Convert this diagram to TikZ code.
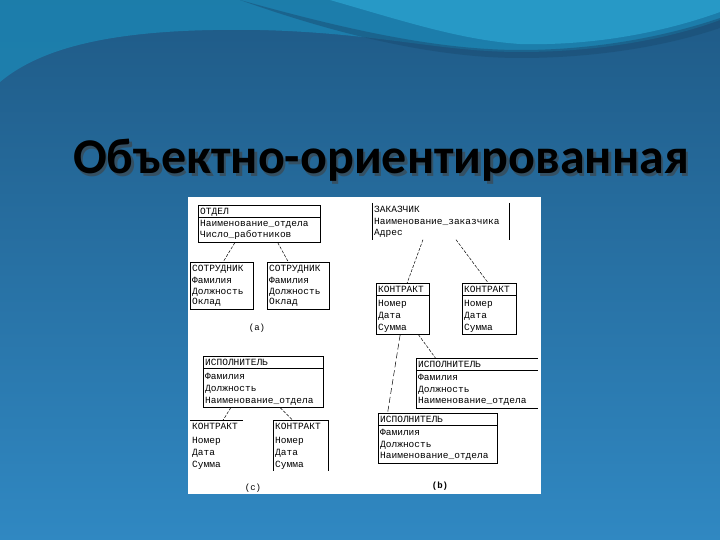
\documentclass[tikz,border=0pt]{standalone}
\usepackage{fontspec}
\newfontfamily\titlefont{Carlito}
\newfontfamily\mono{Liberation Mono}
\usetikzlibrary{calc}
\definecolor{bgtop}{HTML}{1F5A86}
\definecolor{bgbot}{HTML}{3088C2}
\definecolor{wave}{HTML}{1C86B4}
\definecolor{streak}{HTML}{2CA6D2}
\tikzset{
  box/.style={anchor=north west, inner sep=0pt, line width=0.7pt},
  txt/.style={anchor=base west, inner sep=0pt, font=\mono\fontsize{9.5}{11}\selectfont},
  link/.style={line width=0.5pt, dash pattern=on 3pt off 1.5pt},
  sublabel/.style={anchor=base, inner sep=0pt, font=\mono\fontsize{9}{11}\selectfont},
}
% rows of a class box: header first, then attributes
\newcommand\fillrows[3][11.5]{\foreach \t [count=\i] in {#3} {
  \pgfmathsetmacro\dy{(\i==1) ? 9.5 : 11+#1*(\i-1)}
  \node[txt] (#2-\i) at ($(#2.north west)+(2,\dy)$) {\t};}}
\def\sep(#1){\draw[line width=0.7pt] ($(#1.north west)+(0,12.5)$) -- ($(#1.north east)+(0,12.5)$);}

\begin{document}
\begin{tikzpicture}[x=1pt,y=-1pt]
			%%%%% START %%%%%
			\useasboundingbox (0,0) rectangle (720,540);
			\shade[top color=bgtop, bottom color=bgbot] (0,0) rectangle (720,540);
			\fill[wave, opacity=0.8] (0,0) -- (0,82) .. controls (50,40) and (140,28) .. (260,30)
			  .. controls (380,33) and (440,52) .. (520,52) .. controls (610,52) and (680,35) .. (720,20) -- (720,0) -- cycle;
			\fill[bgtop!85!black, opacity=0.5] (240,0) .. controls (330,25) and (430,50) .. (520,50)
			  .. controls (600,50) and (670,35) .. (720,18) -- (720,28) .. controls (670,45) and (600,58) .. (520,58)
			  .. controls (430,58) and (330,32) .. (240,0) -- cycle;
			\fill[streak, opacity=0.7] (330,0) .. controls (400,20) and (460,40) .. (520,44)
			  .. controls (600,46) and (670,30) .. (720,12) -- (720,0) -- cycle;
			
			% title
			\node[anchor=base, text=black!75, opacity=0.6, font=\titlefont\bfseries\fontsize{50}{60}\selectfont] (shadow) at (383.5,176.5) {Объектно-ориентированная};
			\node[anchor=base, text=black, font=\titlefont\bfseries\fontsize{50}{60}\selectfont] (title) at (381,174) {Объектно-ориентированная};
			
			% panel
			\fill[white] (188,197) rectangle (541,494);
			
			% (a)
			\node[box, draw, minimum width=122, minimum height=37] (otdel) at (198,205) {};
			\sep(otdel)
			\fillrows[10.5]{otdel}{ОТДЕЛ, Наименование\_отдела, Число\_работников}
			\node[box, draw, minimum width=63, minimum height=47] (sotrA) at (190,262) {};
			\fillrows[10.5]{sotrA}{СОТРУДНИК, Фамилия, Должность, Оклад}
			\node[box, draw, minimum width=62, minimum height=47] (sotrB) at (267,262) {};
			\fillrows[10.5]{sotrB}{СОТРУДНИК, Фамилия, Должность, Оклад}
			\draw[link] ($(otdel.south west)!0.30!(otdel.south east)$) -- ($(sotrA.north west)!0.52!(sotrA.north east)$);
			\draw[link] ($(otdel.south west)!0.65!(otdel.south east)$) -- ($(sotrB.north west)!0.34!(sotrB.north east)$);
			\node[sublabel] (capA) at (257,330) {(a)};
			
			% (b)
			\node[box, minimum width=137, minimum height=36] (zakaz) at (372,203) {};
			\draw[line width=0.7pt] (zakaz.north west) -- (zakaz.south west);
			\draw[line width=0.7pt] (zakaz.north east) -- (zakaz.south east);
			\fillrows[11]{zakaz}{ЗАКАЗЧИК, Наименование\_заказчика, Адрес}
			\node[box, draw, minimum width=53, minimum height=51] (kontrL) at (376,283) {};
			\sep(kontrL)
			\fillrows[12]{kontrL}{КОНТРАКТ, Номер, Дата, Сумма}
			\node[box, draw, minimum width=54, minimum height=51] (kontrR) at (462,283) {};
			\sep(kontrR)
			\fillrows[12]{kontrR}{КОНТРАКТ, Номер, Дата, Сумма}
			\node[box, minimum width=121, minimum height=50] (ispU) at (416,358) {};
			\draw[line width=0.7pt] (ispU.north east) -- (ispU.north west) -- (ispU.south west) -- (ispU.south east);
			\sep(ispU)
			\fillrows{ispU}{ИСПОЛНИТЕЛЬ, Фамилия, Должность, Наименование\_отдела}
			\node[box, draw, minimum width=119, minimum height=50] (ispL) at (378,413) {};
			\sep(ispL)
			\fillrows{ispL}{ИСПОЛНИТЕЛЬ, Фамилия, Должность, Наименование\_отдела}
			\draw[link] ($(zakaz.south west)!0.37!(zakaz.south east)$) -- ($(kontrL.north west)!0.58!(kontrL.north east)$);
			\draw[link] ($(zakaz.south west)!0.61!(zakaz.south east)$) -- ($(kontrR.north west)!0.48!(kontrR.north east)$);
			\draw[link, dash pattern=on 6pt off 3pt] ($(kontrL.south west)!0.45!(kontrL.south east)$) -- ($(ispL.north west)!0.08!(ispL.north east)$);
			\draw[link] ($(kontrL.south west)!0.79!(kontrL.south east)$) -- ($(ispU.north west)!0.16!(ispU.north east)$);
			\node[sublabel, font=\mono\bfseries\fontsize{9}{11}\selectfont] (capB) at (440,488) {(b)};
			
			% (c)
			\node[box, draw, minimum width=120, minimum height=51] (ispC) at (203,356) {};
			\sep(ispC)
			\fillrows[12]{ispC}{ИСПОЛНИТЕЛЬ, Фамилия, Должность, Наименование\_отдела}
			\node[box, minimum width=52, minimum height=50] (kontrC1) at (190,420) {};
			\draw[line width=0.7pt] (kontrC1.north west) -- (kontrC1.north east);
			\fillrows[12]{kontrC1}{КОНТРАКТ, Номер, Дата, Сумма}
			\node[box, minimum width=55, minimum height=50] (kontrC2) at (273,420) {};
			\draw[line width=0.7pt] (kontrC2.south west) -- (kontrC2.north west) -- (kontrC2.north east) -- (kontrC2.south east);
			\fillrows[12]{kontrC2}{КОНТРАКТ, Номер, Дата, Сумма}
			\draw[link] ($(ispC.south west)!0.23!(ispC.south east)$) -- ($(kontrC1.north west)!0.63!(kontrC1.north east)$);
			\draw[link] ($(ispC.south west)!0.64!(ispC.south east)$) -- ($(kontrC2.north west)!0.35!(kontrC2.north east)$);
			\node[sublabel] (capC) at (253,490) {(c)};
			
			%%%%% END %%%%%
\end{tikzpicture}
\end{document}
